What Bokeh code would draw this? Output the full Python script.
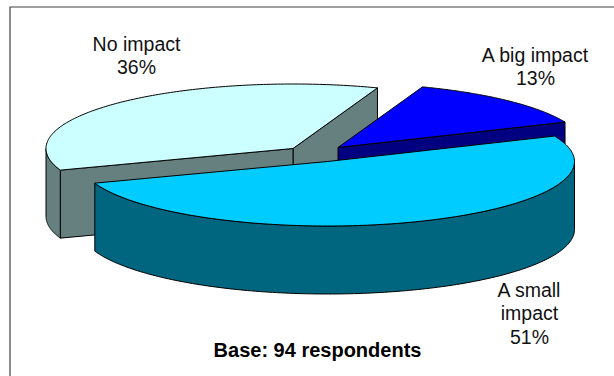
import numpy as np
from bokeh.core.properties import value
from bokeh.embed import file_html
from bokeh.models import Range1d
from bokeh.plotting import figure
from bokeh.resources import INLINE

# Survey results, percent of respondents
categories = ["No impact", "A big impact", "A small impact"]
shares = [36, 13, 51]
label_lines = [["No impact", "36%"], ["A big impact", "13%"], ["A small", "impact", "51%"]]
footnote = "Base: 94 respondents"

top_colors = ["#CCFFFF", "#0000FF", "#00CCFF"]
side_colors = ["#668080", "#000080", "#006680"]

# Layout of the tilted pie, in page pixels
WIDTH, HEIGHT = 614, 376
RX, RY, DEPTH = 247, 64.5, 68
START_ANGLE = 70.0  # degrees, where "A big impact" begins; slices run clockwise
centers = {"No impact": (292.5, 148), "A big impact": (337.5, 147), "A small impact": (327, 161)}
label_anchor = {"No impact": (136, 43), "A big impact": (535, 54), "A small impact": (529, 289)}
LINE_STEP = 23.5

p = figure(width=WIDTH, height=HEIGHT, output_backend="svg", toolbar_location=None,
           x_range=Range1d(0, WIDTH), y_range=Range1d(HEIGHT, 0),
           min_border=0, outline_line_color=None)
p.axis.visible = False
p.grid.visible = False
p.background_fill_color = "white"

# Chart frame: only the top and left edges fall inside the page
p.line([9.5, 9.5, WIDTH], [HEIGHT, 6.5, 6.5], line_color="#404040", line_width=1.2)

# Slice spans as (start, end) with end > start, in degrees counter-clockwise from east
spans = {}
angle = START_ANGLE
for i in [1, 2, 0]:
    sweep = shares[i] * 3.6
    spans[i] = (angle - sweep, angle)
    angle -= sweep
spans[0] = (spans[0][0] + 360, spans[0][1] + 360)


def rim(cx, cy, a0, a1, n=160):
    t = np.radians(np.linspace(a0, a1, n))
    return cx + RX * np.cos(t), cy - RY * np.sin(t)


def face(xs, ys, fill):
    p.patch(list(xs), list(ys), fill_color=fill, line_color="black", line_width=1, line_join="round")


def wall(cx, cy, a0, a1, fill):
    """Outer wall along the arc from a0 to a1."""
    x, y = rim(cx, cy, a0, a1)
    face(np.r_[x, x[::-1]], np.r_[y, y[::-1] + DEPTH], fill)


def flat_side(cx, cy, a, fill):
    """Straight cut face from the slice's apex out to the rim at angle a."""
    x, y = rim(cx, cy, a, a, 1)
    face([cx, x[0], x[0], cx], [cy, y[0], y[0] + DEPTH, cy + DEPTH], fill)


# Back to front: grey slice, blue slice, then the large front slice
for i, name in enumerate(categories):
    cx, cy = centers[name]
    a0, a1 = spans[i]
    if name == "No impact":
        flat_side(cx, cy, a0, side_colors[i])
        flat_side(cx, cy, a1, side_colors[i])
        wall(cx, cy, 180, a1, side_colors[i])
    elif name == "A big impact":
        flat_side(cx, cy, a0, side_colors[i])
    else:
        wall(cx, cy, a0, 0, side_colors[i])
    x, y = rim(cx, cy, a0, a1)
    face(np.r_[cx, x], np.r_[cy, y], top_colors[i])

# Category labels
for name, lines in zip(categories, label_lines):
    lx, ly = label_anchor[name]
    for k, line in enumerate(lines):
        p.text([lx], [ly + k * LINE_STEP], text=[line], text_font=value("Liberation Sans"),
               text_font_size="19.5px", text_color="#111111", text_align="center", text_baseline="middle")

p.text([317], [349], text=[footnote], text_font=value("Liberation Sans"), text_font_style="bold",
       text_font_size="20px", text_color="black", text_align="center", text_baseline="middle")

open("out.html", "w").write(file_html(p, INLINE))
